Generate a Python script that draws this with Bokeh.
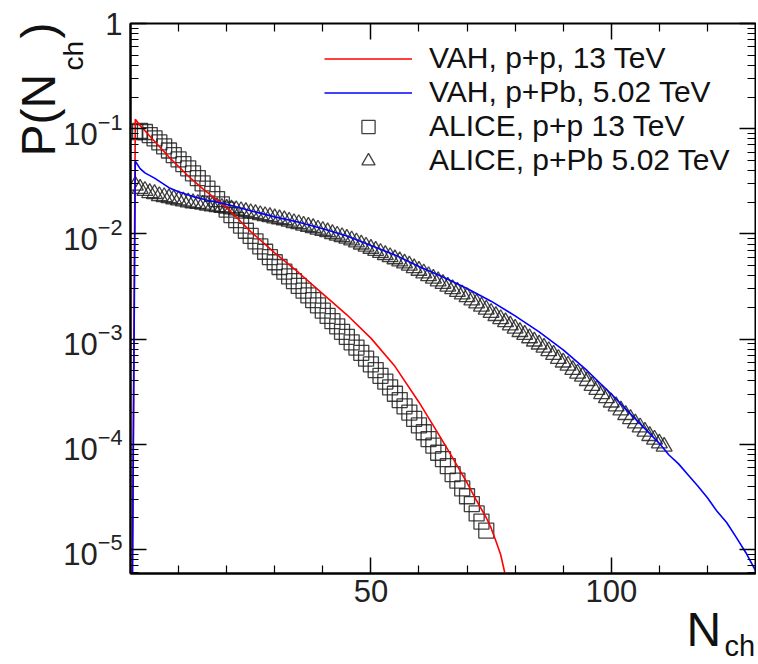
import math
from bokeh.plotting import figure
from bokeh.models import (Range1d, LinearAxis, LogAxis, FixedTicker, LogTicker,
                          LogTickFormatter, Label, Legend, LegendItem)
from bokeh.core.enums import CoordinateUnits
from bokeh.embed import file_html
from bokeh.resources import INLINE

FONT = "Liberation Sans"

# ---------------- data ----------------
# VAH, p+p, 13 TeV (red histogram line)
vah_pp_n = [0, 1, 2, 3, 5, 8, 10, 12, 15, 20, 25, 30, 35, 40, 45, 50, 55, 60, 62,
            64, 66, 68, 70, 72, 74, 75, 76, 77, 78, 79]
vah_pp_p = [1e-8, 0.123, 0.107, 0.0955, 0.0759, 0.0537, 0.0437, 0.0355, 0.0269,
            0.0178, 0.0105, 0.0066, 0.00427, 0.00269, 0.0017, 0.00102, 5.5e-4,
            2.51e-4, 1.78e-4, 1.26e-4, 8.9e-5, 6.2e-5, 4.3e-5, 2.9e-5, 2.0e-5,
            1.6e-5, 1.2e-5, 8.9e-6, 5.6e-6, 3.2e-6]

# VAH, p+Pb, 5.02 TeV (blue histogram line)
vah_ppb_n = [0, 1, 2, 3, 5, 8, 10, 13, 16, 20, 25, 30, 35, 40, 45, 50, 55, 60, 65,
             70, 75, 80, 85, 90, 95, 100, 105, 110, 112, 114, 116, 118, 120, 122,
             124, 126, 128, 130, 131]
vah_ppb_p = [1e-8, 0.049, 0.0417, 0.038, 0.0339, 0.0275, 0.0251, 0.0226, 0.0209,
             0.0191, 0.0166, 0.0145, 0.0129, 0.0112, 0.00955, 0.00776, 0.00631,
             0.0049, 0.00389, 0.00302, 0.00229, 0.00166, 0.00117, 7.9e-4, 5.0e-4,
             3.0e-4, 1.74e-4, 1.02e-4, 7.9e-5, 6.5e-5, 5.1e-5, 4.0e-5, 3.1e-5,
             2.3e-5, 1.8e-5, 1.3e-5, 9.3e-6, 6.3e-6, 5.0e-6]

# ALICE, p+p 13 TeV (open squares), N = 1 ... 74
alice_pp_n = list(range(1, 75))
alice_pp_p = [0.093, 0.095, 0.093, 0.087, 0.081, 0.074, 0.068, 0.062, 0.056, 0.051,
              0.046, 0.042, 0.0376, 0.0339, 0.0302, 0.0269, 0.024, 0.0214, 0.0191, 0.017,
              0.0151, 0.0135, 0.012, 0.0107, 0.00955, 0.0085, 0.0076, 0.00676, 0.006, 0.00537,
              0.00484, 0.00437, 0.00394, 0.00355, 0.0032, 0.00288, 0.0026, 0.00234, 0.00209, 0.00186,
              0.00166, 0.00148, 0.00132, 0.00117, 0.00105, 9.3e-4, 8.3e-4, 7.4e-4, 6.5e-4, 5.75e-4,
              5.07e-4, 4.47e-4, 3.94e-4, 3.47e-4, 3.02e-4, 2.63e-4, 2.29e-4, 2.0e-4, 1.74e-4, 1.51e-4,
              1.3e-4, 1.12e-4, 9.7e-5, 8.3e-5, 7.2e-5, 6.2e-5, 5.2e-5, 4.5e-5, 3.8e-5, 3.2e-5,
              2.7e-5, 2.2e-5, 1.84e-5, 1.51e-5]

# ALICE, p+Pb 5.02 TeV (open triangles), N = 1 ... 111
alice_ppb_n = list(range(1, 112))
alice_ppb_p = [0.0288, 0.0269, 0.0257, 0.0245, 0.024, 0.0229, 0.0224, 0.0219, 0.0214, 0.0209,
               0.0204, 0.02, 0.0196, 0.0193, 0.019, 0.0186, 0.0183, 0.018, 0.0177, 0.0174,
               0.0171, 0.0168, 0.0165, 0.0162, 0.0158, 0.0155, 0.0151, 0.0148, 0.0145, 0.0141,
               0.0138, 0.0135, 0.0131, 0.0127, 0.0124, 0.012, 0.0117, 0.0114, 0.011, 0.0107,
               0.0104, 0.01, 0.00966, 0.00933, 0.00902, 0.0087, 0.00832, 0.00794, 0.00759, 0.00724,
               0.00692, 0.00661, 0.00631, 0.00603, 0.00575, 0.0055, 0.00525, 0.00501, 0.00473, 0.00447,
               0.00422, 0.00398, 0.00376, 0.00355, 0.00335, 0.00316, 0.00299, 0.00282, 0.00266, 0.00251,
               0.00234, 0.00219, 0.00204, 0.00191, 0.00178, 0.00166, 0.00155, 0.00145, 0.00135, 0.00126,
               0.00117, 0.0011, 0.00102, 9.5e-4, 8.9e-4, 8.3e-4, 7.7e-4, 7.1e-4, 6.5e-4, 6.0e-4,
               5.6e-4, 5.1e-4, 4.7e-4, 4.4e-4, 4.0e-4, 3.6e-4, 3.3e-4, 3.0e-4, 2.75e-4, 2.5e-4,
               2.3e-4, 2.1e-4, 1.9e-4, 1.74e-4, 1.58e-4, 1.45e-4, 1.32e-4, 1.2e-4, 1.11e-4, 1.02e-4,
               9.5e-5]

legend_labels = ["VAH, p+p, 13 TeV", "VAH, p+Pb, 5.02 TeV",
                 "ALICE, p+p 13 TeV", "ALICE, p+Pb 5.02 TeV"]
x_major = [50, 100]
x_minor = [10, 20, 30, 40, 60, 70, 80, 90, 110, 120, 130]

# ---------------- figure ----------------
p = figure(frame_width=625, frame_height=550, output_backend="svg", toolbar_location=None,
           y_axis_type="log", x_range=Range1d(0, 130), y_range=Range1d(5.9e-6, 1.0),
           min_border_left=130, min_border_right=1, min_border_top=23, min_border_bottom=88)
p.background_fill_color = "white"
p.border_fill_color = "white"
p.outline_line_color = "black"
p.outline_line_width = 2
p.xgrid.visible = False
p.ygrid.visible = False

sq = p.scatter(alice_pp_n, alice_pp_p, marker="square", size=15, fill_color=None,
               line_color="#202020", line_alpha=0.85, line_width=1.3)
tr = p.scatter(alice_ppb_n, alice_ppb_p, marker="triangle", size=16, fill_color=None,
               line_color="#202020", line_alpha=0.85, line_width=1.3)
rl = p.line(vah_pp_n, vah_pp_p, line_color="#ff0000", line_width=1.6)
bl = p.line(vah_ppb_n, vah_ppb_p, line_color="#0000ff", line_width=1.6)

# axes styling
xa = p.xaxis[0]
xa.ticker = FixedTicker(ticks=x_major, minor_ticks=x_minor)
ya = p.yaxis[0]
ya.ticker = LogTicker(num_minor_ticks=10)
ya.formatter = LogTickFormatter()
ya.major_label_overrides = {1: "1"}
for ax in (xa, ya):
    ax.axis_line_color = "black"
    ax.axis_line_width = 2
    ax.major_tick_in = 16
    ax.major_tick_out = 0
    ax.minor_tick_in = 8
    ax.minor_tick_out = 0
    ax.major_tick_line_width = 1.5
    ax.minor_tick_line_width = 1.2
    ax.major_label_text_font = FONT
    ax.major_label_text_font_size = "31px"
    ax.major_label_text_color = "#222222"
    ax.major_label_text_font_style = "normal"
xa.major_label_standoff = 6
ya.major_label_standoff = 8

# mirrored ticks on top and right (labels hidden)
top = LinearAxis(ticker=FixedTicker(ticks=x_major, minor_ticks=x_minor),
                 major_label_text_font_size="1px", major_label_text_alpha=0,
                 major_label_standoff=0,
                 major_tick_in=16, major_tick_out=0, minor_tick_in=8, minor_tick_out=0,
                 axis_line_color="black", major_tick_line_width=1.5, minor_tick_line_width=1.2)
right = LogAxis(ticker=LogTicker(num_minor_ticks=10),
                major_label_text_font_size="1px", major_label_text_alpha=0,
                major_label_standoff=0,
                major_tick_in=16, major_tick_out=0, minor_tick_in=8, minor_tick_out=0,
                axis_line_color="black", major_tick_line_width=1.5, minor_tick_line_width=1.2)
p.add_layout(top, "above")
p.add_layout(right, "right")

# axis titles (text with subscripts), in canvas pixels (top-left origin);
# they live in the bottom panel so they are not clipped to the frame
use_canvas = "canvas" in CoordinateUnits

def lab(x, y, text, size, angle=0.0):
    if use_canvas:
        kw = dict(x=x, y=y, x_units="canvas", y_units="canvas")
    else:
        kw = dict(x=x - 131, y=574 - y, x_units="screen", y_units="screen")
    p.add_layout(Label(text=text, angle=angle, text_font=FONT, text_font_size=size,
                       text_color="#111111", text_baseline="alphabetic",
                       text_align="left", **kw), "below")

lab(686, 629, "N", "48px")
lab(724, 645, "ch", "29px")
lab(38, 156, "P(N", "48px", math.pi / 2)
lab(73, 70, "ch", "28px", math.pi / 2)
lab(38, 38, ")", "48px", math.pi / 2)

legend = Legend(items=[LegendItem(label=legend_labels[0], renderers=[rl]),
                       LegendItem(label=legend_labels[1], renderers=[bl]),
                       LegendItem(label=legend_labels[2], renderers=[sq]),
                       LegendItem(label=legend_labels[3], renderers=[tr])],
                location=(194, 396), orientation="vertical")
legend.background_fill_alpha = 0
legend.border_line_color = None
legend.padding = 0
legend.margin = 0
legend.spacing = 0
legend.glyph_width = 88
legend.glyph_height = 33
legend.label_height = 33
legend.label_standoff = 17
legend.label_text_font = FONT
legend.label_text_font_size = "30px"
legend.label_text_color = "#111111"
p.add_layout(legend)

open("out.html", "w").write(file_html(p, INLINE))
